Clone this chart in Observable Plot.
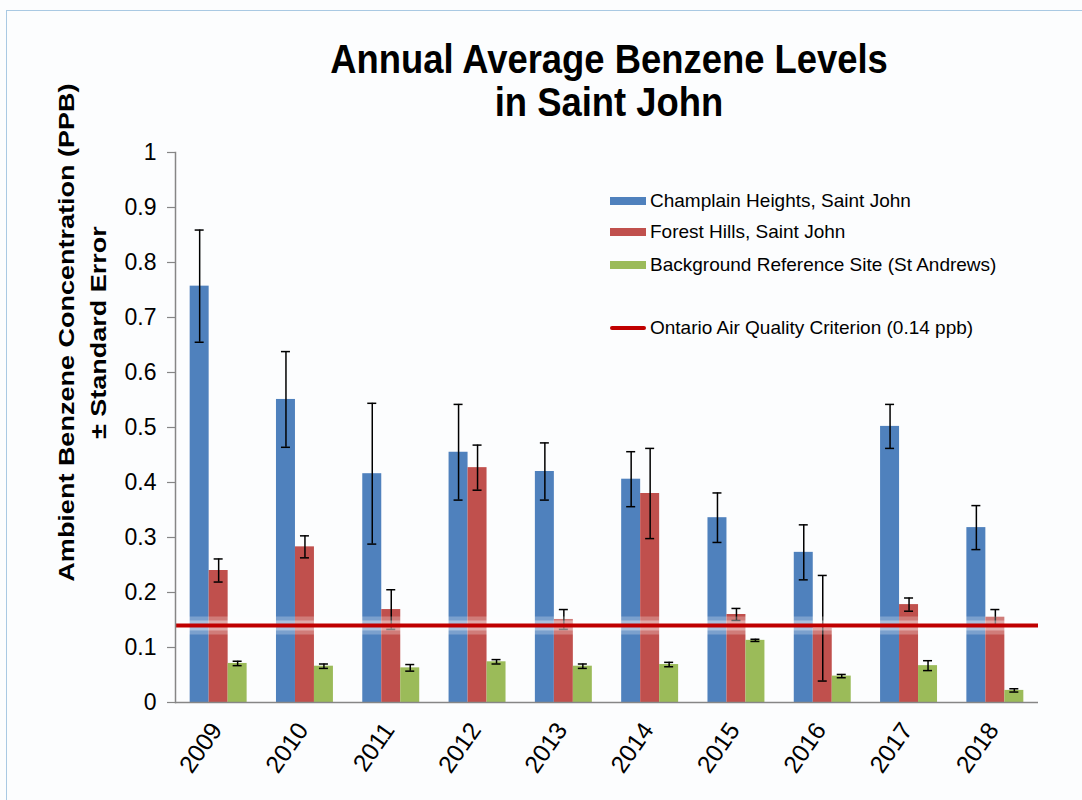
<!DOCTYPE html>
<html>
<head>
<meta charset="utf-8">
<script src="https://cdn.jsdelivr.net/npm/d3@7"></script>
<script src="https://cdn.jsdelivr.net/npm/@observablehq/plot@0.6"></script>
<style>
  body { margin: 0; background: #ffffff; font-family: "Liberation Sans", Arial, sans-serif; }
  #wrap { position: relative; width: 1082px; height: 800px; overflow: hidden; background: #fcfdfe; }
  #border { position: absolute; left: 6px; top: 10px; width: 1200px; height: 900px;
            border-left: 1.5px solid #a9c9e3; border-top: 1.5px solid #a9c9e3; }
  #chart { position: absolute; left: 0; top: 0; }
  #title { position: absolute; left: 259px; top: 37.6px; width: 700px; text-align: center;
           font-weight: bold; font-size: 40px; line-height: 43px; color: #000;
           transform: scaleX(0.91); transform-origin: center; white-space: nowrap; }
  #ylabel { position: absolute; left: -267.5px; top: 295.4px; width: 700px; height: 75.2px;
            text-align: center; font-weight: bold; font-size: 27px; line-height: 37.6px; color: #000;
            transform: rotate(-90deg) scaleY(0.85); transform-origin: center; white-space: nowrap; }
  #legend { position: absolute; left: 610px; top: 0; font-size: 19px; color: #000; }
  .lrow { position: absolute; left: 0; display: flex; align-items: center; white-space: nowrap; height: 24px; margin-top: -12px; }
  .sw { width: 36px; margin-right: 4px; }
</style>
</head>
<body>
<div id="wrap">
  <div id="border"></div>
  <div id="chart"></div>
  <div id="title"></div>
  <div id="ylabel"></div>
  <div id="legend"></div>
</div>
<script>
// ---------- data ----------
const titleLines = ["Annual Average Benzene Levels", "in Saint John"];
const yLabelLines = ["Ambient Benzene Concentration (PPB)", "± Standard Error"];
const years = ["2009", "2010", "2011", "2012", "2013", "2014", "2015", "2016", "2017", "2018"];
const seriesNames = ["Champlain Heights, Saint John", "Forest Hills, Saint John", "Background Reference Site (St Andrews)"];
const criterionName = "Ontario Air Quality Criterion (0.14 ppb)";
const champlain   = [0.757, 0.551, 0.416, 0.455, 0.420, 0.406, 0.336, 0.273, 0.502, 0.318];
const champlainSE = [0.102, 0.087, 0.128, 0.087, 0.052, 0.050, 0.045, 0.050, 0.040, 0.040];
const forest      = [0.240, 0.283, 0.169, 0.427, 0.151, 0.380, 0.160, 0.135, 0.178, 0.155];
const forestSE    = [0.021, 0.020, 0.036, 0.041, 0.018, 0.082, 0.011, 0.096, 0.012, 0.014];
const backgroundSite   = [0.071, 0.066, 0.063, 0.074, 0.066, 0.069, 0.113, 0.048, 0.067, 0.022];
const backgroundSiteSE = [0.004, 0.004, 0.006, 0.004, 0.004, 0.004, 0.002, 0.003, 0.009, 0.003];
const criterion = 0.14;
const yTicks = [0, 0.1, 0.2, 0.3, 0.4, 0.5, 0.6, 0.7, 0.8, 0.9, 1];
const yTickLabels = ["0", "0.1", "0.2", "0.3", "0.4", "0.5", "0.6", "0.7", "0.8", "0.9", "1"];

// ---------- styles ----------
const seriesColors = ["#4f81bd", "#c0504d", "#9bbb59"];
const lineColor = "#c00000";
const axisColor = "#868686";

// ---------- layout ----------
const W = 1082, H = 800;
const mL = 175, mR = 44, mT = 152, mB = 98;
const padIn = 0.34, padOut = 0.17;
const step = (W - mL - mR) / (years.length - padIn + 2 * padOut);
const band = step * (1 - padIn);
const barW = band / 3;
const capHalf = 4.5;

const valuesList = [champlain, forest, backgroundSite];
const seList = [champlainSE, forestSE, backgroundSiteSE];
const tables = valuesList.map((vals, s) =>
  years.map((year, i) => ({ year, value: vals[i], lo: vals[i] - seList[s][i], hi: vals[i] + seList[s][i] }))
);

const marks = [];
tables.forEach((rows, s) => {
  marks.push(Plot.barY(rows, {
    x: "year", y: "value", fill: seriesColors[s],
    insetLeft: s * barW, insetRight: (2 - s) * barW
  }));
});
tables.forEach((rows, s) => {
  const dx = (s - 1) * barW;
  marks.push(Plot.ruleX(rows, { x: "year", y1: "lo", y2: "hi", dx, stroke: "#000", strokeWidth: 1.5 }));
  marks.push(Plot.tickY(rows, { x: "year", y: "lo", dx, stroke: "#000", strokeWidth: 1.5,
    insetLeft: band / 2 - capHalf, insetRight: band / 2 - capHalf }));
  marks.push(Plot.tickY(rows, { x: "year", y: "hi", dx, stroke: "#000", strokeWidth: 1.5,
    insetLeft: band / 2 - capHalf, insetRight: band / 2 - capHalf }));
});
marks.push(Plot.ruleY([criterion], { stroke: "#ffffff", strokeWidth: 18, strokeOpacity: 0.25 }));
marks.push(Plot.ruleY([criterion], { stroke: "#ffffff", strokeWidth: 10, strokeOpacity: 0.35 }));
marks.push(Plot.ruleY([criterion], { stroke: lineColor, strokeWidth: 4 }));
marks.push(Plot.ruleY([0], { stroke: axisColor, strokeWidth: 1.5 }));
marks.push(Plot.frame({ anchor: "left", stroke: axisColor, strokeWidth: 1.5 }));
marks.push(Plot.axisY({ ticks: yTicks, tickFormat: (d) => yTickLabels[yTicks.indexOf(d)], tickSize: 8, tickPadding: 11,
  fontSize: 23, color: "#000", stroke: axisColor, strokeWidth: 1.2, label: null }));
marks.push(Plot.axisX({ tickSize: 0, tickRotate: -55, tickPadding: 23, fontSize: 24.5, color: "#000", label: null, dx: -2 }));

const chart = Plot.plot({
  width: W, height: H,
  marginLeft: mL, marginRight: mR, marginTop: mT, marginBottom: mB,
  style: { background: "transparent", fontFamily: "'Liberation Sans', Arial, sans-serif", color: "#000" },
  x: { type: "band", domain: years, paddingInner: padIn, paddingOuter: padOut, round: false, axis: null },
  y: { domain: [0, 1], axis: null },
  marks
});
document.getElementById("chart").appendChild(chart);

// ---------- title, y label, legend ----------
document.getElementById("title").innerHTML = titleLines.join("<br>");
document.getElementById("ylabel").innerHTML = yLabelLines.join("<br>");
const legend = document.getElementById("legend");
const legendRows = [
  { label: seriesNames[0], color: seriesColors[0], h: 8, top: 201 },
  { label: seriesNames[1], color: seriesColors[1], h: 8, top: 232 },
  { label: seriesNames[2], color: seriesColors[2], h: 8, top: 265 },
  { label: criterionName, color: lineColor, h: 4, top: 328 }
];
legendRows.forEach(r => {
  const row = document.createElement("div");
  row.className = "lrow";
  row.style.top = r.top + "px";
  const sw = document.createElement("div");
  sw.className = "sw";
  sw.style.height = r.h + "px";
  sw.style.background = r.color;
  if (r.h === 4) sw.style.borderRadius = "2px";
  const t = document.createElement("span");
  t.textContent = r.label;
  row.appendChild(sw);
  row.appendChild(t);
  legend.appendChild(row);
});
</script>
</body>
</html>
